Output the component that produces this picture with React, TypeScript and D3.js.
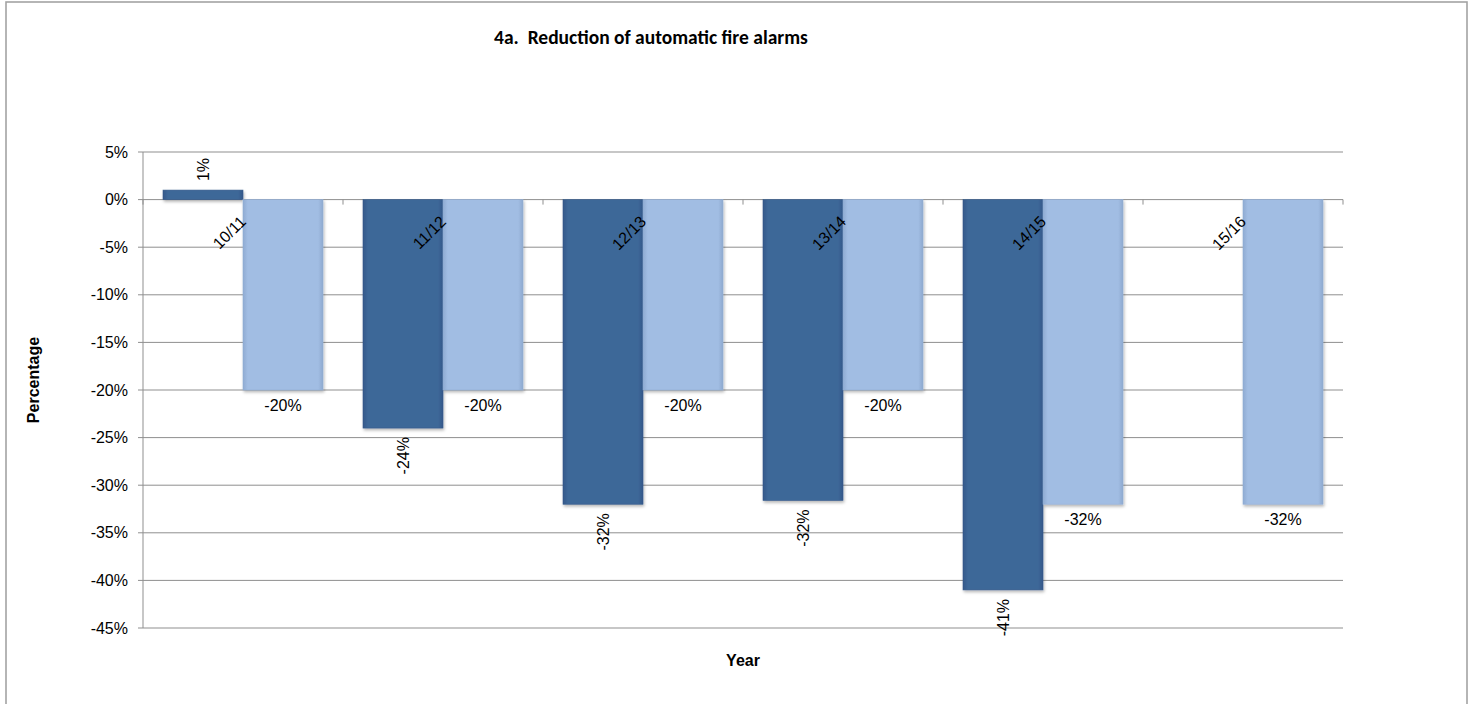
import React from "react";
import * as d3 from "d3";

// Financial years shown along the category axis
const categories = ["10/11", "11/12", "12/13", "13/14", "14/15", "15/16"];
// Achieved reduction (%) per year; 15/16 has no figure yet
const achieved: (number | null)[] = [1, -24, -32, -31.6, -41, null];
// Target reduction (%) per year
const target: number[] = [-20, -20, -20, -20, -32, -32];
// Value-axis ticks (%)
const yTicks = [5, 0, -5, -10, -15, -20, -25, -30, -35, -40, -45];

const W = 1472;
const H = 704;
const plot = { left: 143, right: 1343, top: 152, bottom: 628 };

const x = d3
  .scaleBand<string>()
  .domain(categories)
  .range([plot.left, plot.right])
  .paddingInner(0.2)
  .paddingOuter(0.1);

const y = d3.scaleLinear().domain([5, -45]).range([plot.top, plot.bottom]);

const step = x.step();
const half = x.bandwidth() / 2;
const fmt = (v: number) => `${Math.round(v)}%`;

const FONT = "'Liberation Sans', Arial, Helvetica, sans-serif";
const GRID = "#8f8f8f";

export default function App() {
  const y0 = y(0);
  return (
    <svg
      width={W}
      height={H}
      style={{ position: "absolute", left: 0, top: 0, background: "#fff" }}
      fontFamily={FONT}
    >
      <defs>
        <linearGradient id="darkFill" x1="0" x2="1" y1="0" y2="0">
          <stop offset="0" stopColor="#35598a" />
          <stop offset="0.06" stopColor="#3d6798" />
          <stop offset="0.94" stopColor="#3d6798" />
          <stop offset="1" stopColor="#34588a" />
        </linearGradient>
        <linearGradient id="lightFill" x1="0" x2="1" y1="0" y2="0">
          <stop offset="0" stopColor="#8fabd2" />
          <stop offset="0.06" stopColor="#a1bde3" />
          <stop offset="0.94" stopColor="#a1bde3" />
          <stop offset="1" stopColor="#8ea9cf" />
        </linearGradient>
        <filter id="barShadow" x="-10%" y="-10%" width="130%" height="130%">
          <feDropShadow dx="1" dy="2" stdDeviation="1.5" floodColor="#000" floodOpacity="0.28" />
        </filter>
      </defs>

      {/* chart frame */}
      <rect x={6} y={2} width={1461} height={720} fill="none" stroke="#a3a3a3" strokeWidth={1.6} />

      {/* title */}
      <text
        x={651}
        y={44}
        textAnchor="middle"
        fontFamily="Carlito, Lato, 'Open Sans', sans-serif"
        fontWeight="bold"
        fontSize={19.5}
        fill="#000"
        style={{ whiteSpace: "pre" }}
      >
        {"4a.  Reduction of automatic fire alarms"}
      </text>

      {/* horizontal gridlines and value-axis labels */}
      {yTicks.map((t) => (
        <g key={t}>
          <line x1={plot.left} x2={plot.right} y1={y(t)} y2={y(t)} stroke={GRID} strokeWidth={1} />
          <line x1={plot.left - 5} x2={plot.left} y1={y(t)} y2={y(t)} stroke={GRID} strokeWidth={1} />
          <text x={128} y={y(t)} dy="0.35em" textAnchor="end" fontSize={16} fill="#000">
            {`${t}%`}
          </text>
        </g>
      ))}

      {/* value axis line */}
      <line x1={plot.left} x2={plot.left} y1={plot.top} y2={plot.bottom} stroke={GRID} strokeWidth={1} />

      {/* category tick marks on the zero line */}
      {d3.range(categories.length + 1).map((i) => {
        const px = plot.left + i * step;
        return <line key={i} x1={px} x2={px} y1={y0} y2={y0 + 5} stroke={GRID} strokeWidth={1} />;
      })}

      {/* bars */}
      {categories.map((c, i) => {
        const bx = x(c)!;
        const a = achieved[i];
        const t = target[i];
        return (
          <g key={c} filter="url(#barShadow)">
            {a !== null && (
              <rect
                x={bx}
                width={half}
                y={Math.min(y(a), y0)}
                height={Math.abs(y(a) - y0)}
                fill="url(#darkFill)"
                stroke="#35598a"
                strokeWidth={0.6}
              />
            )}
            <rect
              x={bx + half}
              width={half}
              y={Math.min(y(t), y0)}
              height={Math.abs(y(t) - y0)}
              fill="url(#lightFill)"
              stroke="#92aed4"
              strokeWidth={0.6}
            />
          </g>
        );
      })}

      {/* category labels, slanted across the zero line */}
      {categories.map((c) => {
        const cx = x(c)! + half;
        return (
          <text
            key={c}
            transform={`translate(${cx + 4},${y0 + 23}) rotate(-45)`}
            textAnchor="end"
            fontSize={16}
            fill="#000"
          >
            {c}
          </text>
        );
      })}

      {/* achieved value labels (vertical) */}
      {categories.map((c, i) => {
        const a = achieved[i];
        if (a === null) return null;
        const cx = x(c)! + half / 2;
        const edge = y(a);
        const pos = a >= 0;
        const ty = pos ? edge - 9 : edge + 9;
        return (
          <text
            key={c}
            transform={`translate(${cx + 6},${ty}) rotate(-90)`}
            textAnchor={pos ? "start" : "end"}
            fontSize={16}
            fill="#000"
          >
            {fmt(a)}
          </text>
        );
      })}

      {/* target value labels (horizontal) */}
      {categories.map((c, i) => {
        const t = target[i];
        const cx = x(c)! + half * 1.5;
        return (
          <text key={c} x={cx} y={y(t) + 21} textAnchor="middle" fontSize={16} fill="#000">
            {fmt(t)}
          </text>
        );
      })}

      {/* axis titles */}
      <text
        transform={`translate(39,380) rotate(-90)`}
        textAnchor="middle"
        fontSize={16}
        fontWeight="bold"
        fill="#000"
      >
        Percentage
      </text>
      <text x={743} y={666} textAnchor="middle" fontSize={16} fontWeight="bold" fill="#000">
        Year
      </text>
    </svg>
  );
}
